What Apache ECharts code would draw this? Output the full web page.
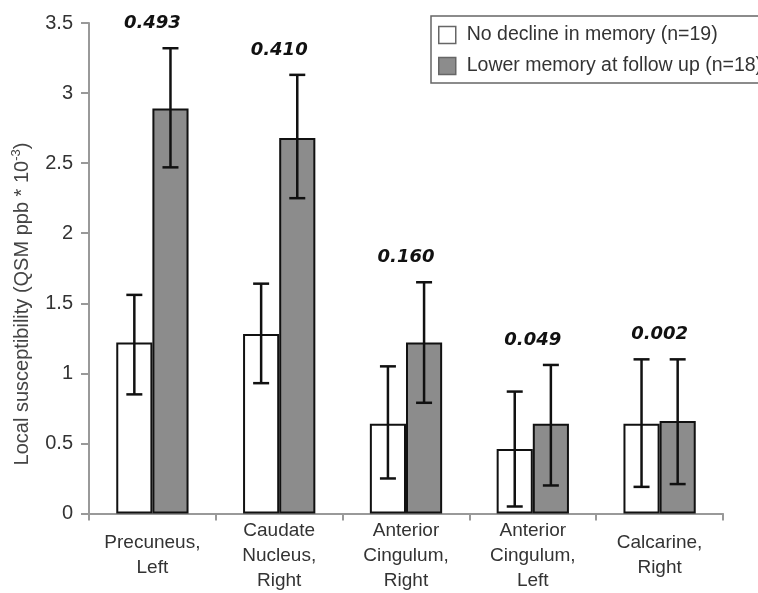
<!DOCTYPE html>
<html>
<head>
<meta charset="utf-8">
<script src="https://cdn.jsdelivr.net/npm/echarts@6/dist/echarts.min.js"></script>
<style>
  html, body { margin: 0; padding: 0; background: #fff; }
  #chart { width: 758px; height: 593px; }
</style>
</head>
<body>
<div id="chart"></div>
<script>
// Regions of interest
const categories = [
  'Precuneus,\nLeft',
  'Caudate\nNucleus,\nRight',
  'Anterior\nCingulum,\nRight',
  'Anterior\nCingulum,\nLeft',
  'Calcarine,\nRight'
];

// Group means and error-bar extents (QSM ppb * 10^-3)
const noDecline     = [1.22, 1.28, 0.64, 0.46, 0.64];
const noDeclineLow  = [0.85, 0.93, 0.25, 0.05, 0.19];
const noDeclineHigh = [1.56, 1.64, 1.05, 0.87, 1.10];

const lowerMemory     = [2.89, 2.68, 1.22, 0.64, 0.66];
const lowerMemoryLow  = [2.47, 2.25, 0.79, 0.20, 0.21];
const lowerMemoryHigh = [3.32, 3.13, 1.65, 1.06, 1.10];

// p-values printed above each region
const pValues = ['0.493', '0.410', '0.160', '0.049', '0.002'];

// y-axis scale
const yMin = 0, yMax = 3.5, yStep = 0.5;

const seriesNames = ['No decline in memory (n=19)', 'Lower memory at follow up (n=18)'];
const CAT_GAP = 0.43;
const FONT = '"Liberation Sans", Arial, sans-serif';

function errorBars(low, high, side) {
  return {
    type: 'custom',
    coordinateSystem: 'cartesian2d',
    z: 5,
    silent: true,
    data: low.map((l, i) => [i, l, high[i]]),
    encode: { x: 0, y: [1, 2] },
    renderItem: function (params, api) {
      const idx = api.value(0);
      const band = api.size([1, 0])[0];
      const barW = band * (1 - CAT_GAP) / 2;
      const pLow = api.coord([idx, api.value(1)]);
      const pHigh = api.coord([idx, api.value(2)]);
      const x = pLow[0] + side * barW / 2;
      const cap = 8;
      const st = { stroke: '#111', lineWidth: 2.5 };
      return {
        type: 'group',
        children: [
          { type: 'line', shape: { x1: x, y1: pLow[1], x2: x, y2: pHigh[1] }, style: st },
          { type: 'line', shape: { x1: x - cap, y1: pLow[1], x2: x + cap, y2: pLow[1] }, style: st },
          { type: 'line', shape: { x1: x - cap, y1: pHigh[1], x2: x + cap, y2: pHigh[1] }, style: st }
        ]
      };
    }
  };
}

const labelTops = pValues.map((p, i) => [i, Math.max(noDeclineHigh[i], lowerMemoryHigh[i]), p]);

const chart = echarts.init(document.getElementById('chart'), null, { renderer: 'canvas' });

chart.setOption({
  backgroundColor: '#fff',
  animation: false,
  grid: { left: 89, right: 35, top: 23, bottom: 79, containLabel: false },
  legend: {
    data: seriesNames,
    orient: 'vertical',
    left: 431,
    top: 16,
    padding: [9, 20, 7, 7],
    icon: 'rect',
    itemWidth: 17,
    itemHeight: 17,
    itemGap: 11,
    itemStyle: { borderColor: '#666', borderWidth: 1.5 },
    borderColor: '#666',
    borderWidth: 1.5,
    borderRadius: 0,
    textStyle: { fontFamily: FONT, fontSize: 19.5, color: '#333', padding: [0, 0, 0, 6] }
  },
  xAxis: {
    type: 'category',
    data: categories,
    axisLine: { lineStyle: { color: '#999', width: 2 } },
    axisTick: { show: true, length: 7, lineStyle: { color: '#999', width: 2 } },
    axisLabel: {
      fontFamily: FONT, fontSize: 19, color: '#333',
      lineHeight: 25, margin: 42, verticalAlign: 'middle', interval: 0
    },
    splitLine: { show: false }
  },
  yAxis: {
    type: 'value',
    min: yMin, max: yMax, interval: yStep,
    axisLine: { show: true, lineStyle: { color: '#999', width: 2 } },
    axisTick: { show: true, length: 8, lineStyle: { color: '#999', width: 2 } },
    axisLabel: { fontFamily: FONT, fontSize: 20, color: '#333', margin: 16 },
    splitLine: { show: false }
  },
  graphic: [{
    type: 'text',
    x: 22,
    y: 304,
    rotation: Math.PI / 2,
    style: {
      text: 'Local susceptibility (QSM ppb * 10{sup|-3})',
      fontFamily: FONT,
      fontSize: 20,
      lineHeight: 25,
      fill: '#444',
      align: 'center',
      verticalAlign: 'middle',
      rich: {
        sup: { fontFamily: FONT, fontSize: 13, lineHeight: 13, verticalAlign: 'top', fill: '#444' }
      }
    }
  }],
  series: [
    {
      name: seriesNames[0],
      type: 'bar',
      data: noDecline,
      barGap: '0%',
      barCategoryGap: (CAT_GAP * 100) + '%',
      itemStyle: { color: '#fff', borderColor: '#111', borderWidth: 2 }
    },
    {
      name: seriesNames[1],
      type: 'bar',
      data: lowerMemory,
      barGap: '0%',
      barCategoryGap: (CAT_GAP * 100) + '%',
      itemStyle: { color: '#8c8c8c', borderColor: '#111', borderWidth: 2 }
    },
    errorBars(noDeclineLow, noDeclineHigh, -1),
    errorBars(lowerMemoryLow, lowerMemoryHigh, 1),
    {
      type: 'custom',
      coordinateSystem: 'cartesian2d',
      z: 6,
      silent: true,
      data: labelTops,
      encode: { x: 0, y: 1 },
      renderItem: function (params, api) {
        const pt = api.coord([api.value(0), api.value(1)]);
        return {
          type: 'text',
          x: pt[0],
          y: pt[1] - 25,
          style: {
            text: labelTops[params.dataIndex][2],
            fontFamily: '"DejaVu Sans", sans-serif',
            fontWeight: 'bold',
            fontStyle: 'italic',
            fontSize: 18,
            fill: '#111',
            align: 'center',
            verticalAlign: 'middle'
          }
        };
      }
    }
  ]
});
</script>
</body>
</html>
